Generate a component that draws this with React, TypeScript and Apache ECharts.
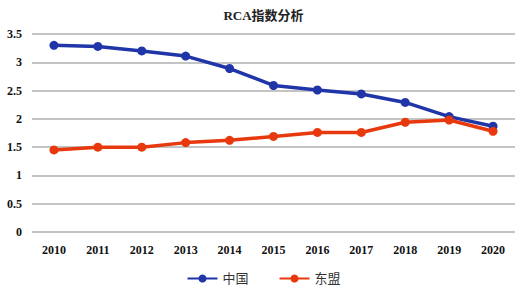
import React, { useEffect, useRef } from "react";
import * as echarts from "echarts";

const years = ["2010", "2011", "2012", "2013", "2014", "2015", "2016", "2017", "2018", "2019", "2020"];
const chinaValues = [3.3, 3.28, 3.2, 3.11, 2.89, 2.59, 2.51, 2.44, 2.29, 2.04, 1.87];
const aseanValues = [1.45, 1.5, 1.5, 1.58, 1.62, 1.69, 1.76, 1.76, 1.94, 1.98, 1.78];
const seriesNames = ["中国", "东盟"];

export default function App() {
  const ref = useRef<HTMLDivElement>(null);
  useEffect(() => {
    document.body.style.margin = "0";
    const chart = echarts.init(ref.current!, null, { renderer: "svg" });
    const serif = "'Liberation Serif', 'DejaVu Serif', 'Noto Sans CJK SC', serif";
    chart.setOption({
      animation: false,
      backgroundColor: "#ffffff",
      title: {
        text: "RCA指数分析",
        left: "center",
        top: 4,
        textStyle: { fontFamily: serif, fontSize: 13, fontWeight: "bold", color: "#222" },
      },
      grid: { left: 32, right: 12, top: 34, bottom: 58 },
      legend: {
        bottom: 0,
        left: "center",
        itemWidth: 30,
        itemHeight: 10,
        itemGap: 30,
        textStyle: { fontFamily: serif, fontSize: 13, color: "#333" },
        data: seriesNames,
      },
      xAxis: {
        type: "category",
        data: years,
        axisLine: { show: false },
        axisTick: { show: false },
        axisLabel: { fontFamily: serif, fontWeight: "bold", fontSize: 12, color: "#111", margin: 12 },
      },
      yAxis: {
        type: "value",
        min: 0,
        max: 3.5,
        interval: 0.5,
        axisLabel: { fontFamily: serif, fontWeight: "bold", fontSize: 12, color: "#111", margin: 10 },
        splitLine: { lineStyle: { color: "#b0b0b0", width: 1.5 } },
      },
      series: [
        {
          name: seriesNames[0],
          type: "line",
          data: chinaValues,
          symbol: "circle",
          symbolSize: 9,
          lineStyle: { width: 3.5, color: "#1f35a8" },
          itemStyle: { color: "#1f35a8" },
        },
        {
          name: seriesNames[1],
          type: "line",
          data: aseanValues,
          symbol: "circle",
          symbolSize: 9,
          lineStyle: { width: 3.5, color: "#e8380d" },
          itemStyle: { color: "#e8380d" },
        },
      ],
    });
    return () => chart.dispose();
  }, []);
  return <div ref={ref} style={{ width: 527, height: 290 }} />;
}
